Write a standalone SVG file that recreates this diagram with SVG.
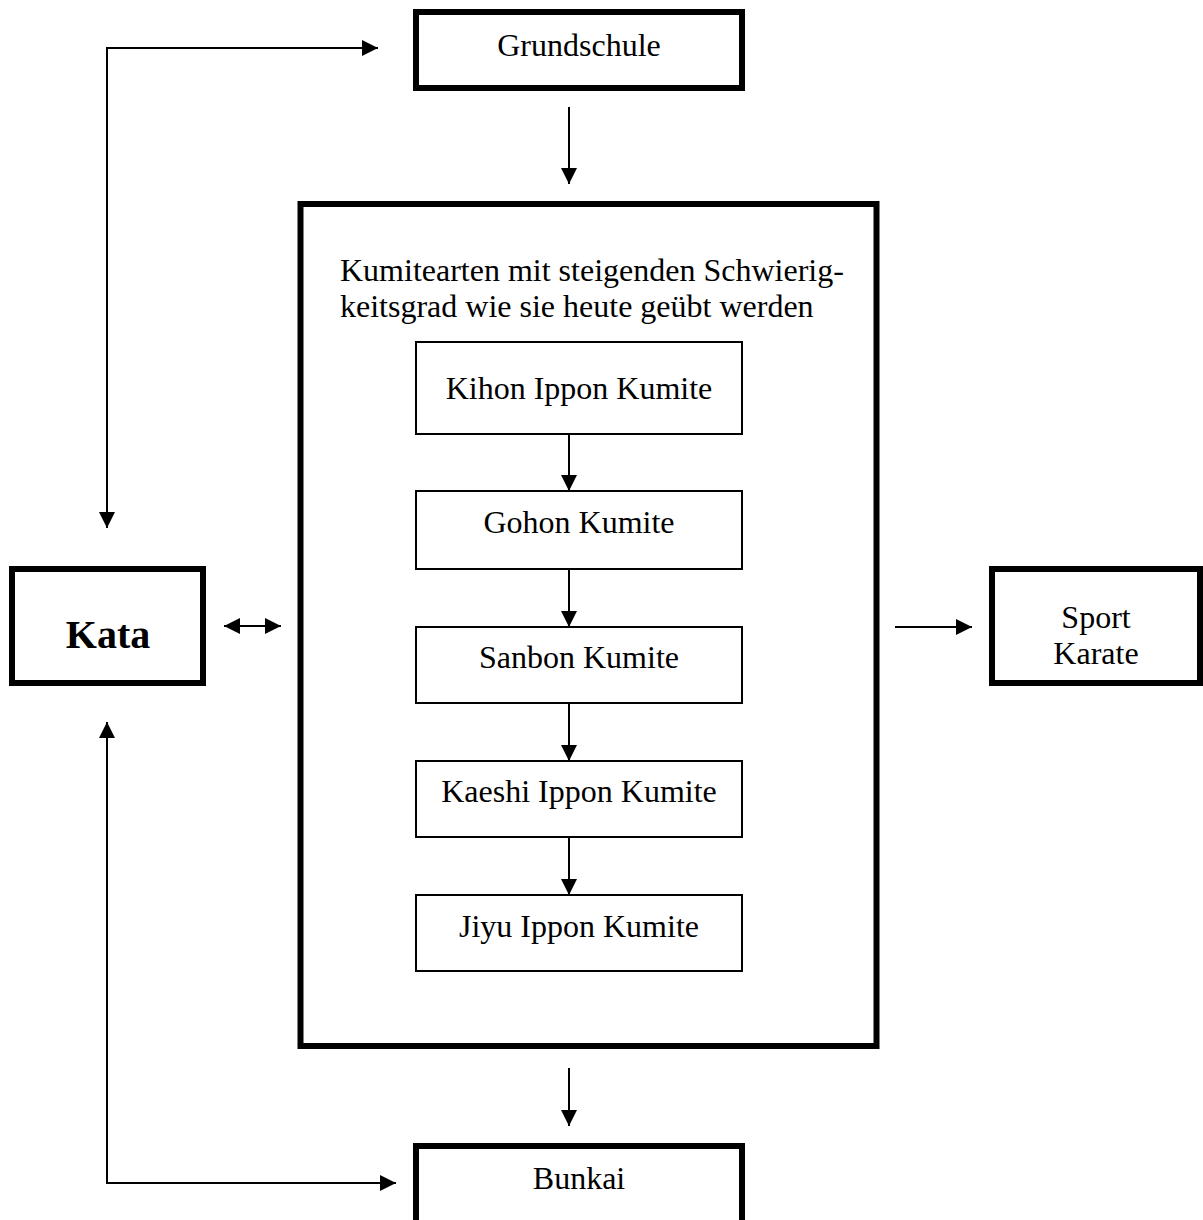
<svg xmlns="http://www.w3.org/2000/svg" width="1203" height="1220" viewBox="0 0 1203 1220">
<defs>
<style>
.thick{fill:#fff;stroke:#000;stroke-width:6}
.thin{fill:#fff;stroke:#000;stroke-width:2}
.t{font-family:"Liberation Serif","Times New Roman",serif;font-size:32px;fill:#000;text-anchor:middle}
.tl{font-family:"Liberation Serif","Times New Roman",serif;font-size:32px;fill:#000}
.kata{font-family:"Liberation Serif","Times New Roman",serif;font-size:40px;font-weight:bold;fill:#000;text-anchor:middle}
.c{fill:none;stroke:#000;stroke-width:2}
</style>
<marker id="ah" markerUnits="userSpaceOnUse" markerWidth="16" markerHeight="16" refX="16" refY="8" orient="auto-start-reverse" viewBox="0 0 16 16">
<path d="M0,0 L16,8 L0,16 z" fill="#000"/>
</marker>
</defs>
<rect width="1203" height="1220" fill="#fff"/>

<g id="grundschule">
<rect class="thick" x="416" y="12" width="326" height="76"/>
<text class="t" x="579" y="56">Grundschule</text>
</g>

<g id="kumite-gruppe">
<rect class="thick" x="300.5" y="204" width="576" height="842"/>
<text class="tl" x="340" y="281">Kumitearten mit steigenden Schwierig-</text>
<text class="tl" x="340" y="317">keitsgrad wie sie heute geübt werden</text>
</g>

<g id="kihon">
<rect class="thin" x="416" y="342" width="326" height="92"/>
<text class="t" x="579" y="399">Kihon Ippon Kumite</text>
</g>
<g id="gohon">
<rect class="thin" x="416" y="491" width="326" height="78"/>
<text class="t" x="579" y="533">Gohon Kumite</text>
</g>
<g id="sanbon">
<rect class="thin" x="416" y="627" width="326" height="76"/>
<text class="t" x="579" y="668">Sanbon Kumite</text>
</g>
<g id="kaeshi">
<rect class="thin" x="416" y="761" width="326" height="76"/>
<text class="t" x="579" y="802">Kaeshi Ippon Kumite</text>
</g>
<g id="jiyu">
<rect class="thin" x="416" y="895" width="326" height="76"/>
<text class="t" x="579" y="937">Jiyu Ippon Kumite</text>
</g>

<g id="kata">
<rect class="thick" x="12" y="569" width="191" height="114"/>
<text class="kata" x="108" y="648">Kata</text>
</g>

<g id="sport-karate">
<rect class="thick" x="992" y="569" width="208" height="114"/>
<text class="t" x="1096" y="628">Sport</text>
<text class="t" x="1096" y="664">Karate</text>
</g>

<g id="bunkai">
<rect class="thick" x="416" y="1146" width="326" height="84"/>
<text class="t" x="579" y="1189">Bunkai</text>
</g>

<g id="connectors">
<path class="c" d="M107,528 L107,48 L378,48" marker-start="url(#ah)" marker-end="url(#ah)"/>
<path class="c" d="M107,722 L107,1183 L396,1183" marker-start="url(#ah)" marker-end="url(#ah)"/>
<path class="c" d="M569,107 L569,184" marker-end="url(#ah)"/>
<path class="c" d="M569,1068 L569,1126" marker-end="url(#ah)"/>
<path class="c" d="M224,626 L281,626" marker-start="url(#ah)" marker-end="url(#ah)"/>
<path class="c" d="M895,627 L972,627" marker-end="url(#ah)"/>
<path class="c" d="M569,434 L569,491" marker-end="url(#ah)"/>
<path class="c" d="M569,569 L569,627" marker-end="url(#ah)"/>
<path class="c" d="M569,703 L569,761" marker-end="url(#ah)"/>
<path class="c" d="M569,837 L569,895" marker-end="url(#ah)"/>
</g>
</svg>
